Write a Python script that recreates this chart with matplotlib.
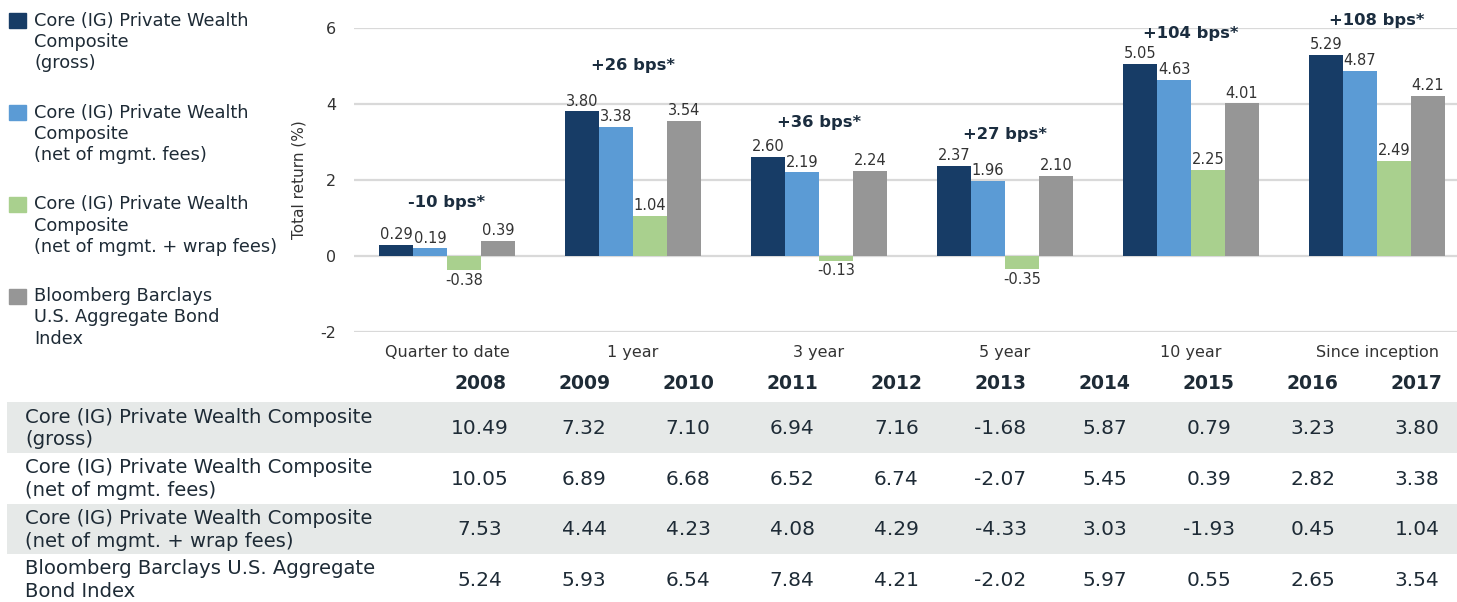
import numpy as np
import matplotlib.pyplot as plt
from matplotlib.patches import Rectangle

plt.rcParams['font.family'] = ['DejaVu Sans']
plt.rcParams['axes.unicode_minus'] = False

# chart data (%)
periods = ["Quarter to date", "1 year", "3 year", "5 year", "10 year", "Since inception"]
gross = [0.29, 3.80, 2.60, 2.37, 5.05, 5.29]
net_mgmt = [0.19, 3.38, 2.19, 1.96, 4.63, 4.87]
net_wrap = [-0.38, 1.04, -0.13, -0.35, 2.25, 2.49]
bond_index = [0.39, 3.54, 2.24, 2.10, 4.01, 4.21]
bps_labels = ["-10 bps*", "+26 bps*", "+36 bps*", "+27 bps*", "+104 bps*", "+108 bps*"]

# calendar year table
years = ["2008", "2009", "2010", "2011", "2012", "2013", "2014", "2015", "2016", "2017"]
gross_yr = [10.49, 7.32, 7.10, 6.94, 7.16, -1.68, 5.87, 0.79, 3.23, 3.80]
net_mgmt_yr = [10.05, 6.89, 6.68, 6.52, 6.74, -2.07, 5.45, 0.39, 2.82, 3.38]
net_wrap_yr = [7.53, 4.44, 4.23, 4.08, 4.29, -4.33, 3.03, -1.93, 0.45, 1.04]
bond_index_yr = [5.24, 5.93, 6.54, 7.84, 4.21, -2.02, 5.97, 0.55, 2.65, 3.54]

legend_labels = [
    "Core (IG) Private Wealth\nComposite\n(gross)",
    "Core (IG) Private Wealth\nComposite\n(net of mgmt. fees)",
    "Core (IG) Private Wealth\nComposite\n(net of mgmt. + wrap fees)",
    "Bloomberg Barclays\nU.S. Aggregate Bond\nIndex",
]
table_labels = [
    "Core (IG) Private Wealth Composite\n(gross)",
    "Core (IG) Private Wealth Composite\n(net of mgmt. fees)",
    "Core (IG) Private Wealth Composite\n(net of mgmt. + wrap fees)",
    "Bloomberg Barclays U.S. Aggregate\nBond Index",
]

colors = ["#173c66", "#5b9bd5", "#a9d08e", "#969696"]
TXT = "#1e2b36"
LBL = "#333333"

W, H = 1457, 602
fig = plt.figure(figsize=(W / 100, H / 100), dpi=100)

# ---- bar chart ----
ax_l, ax_r, ax_t, ax_b = 354, W, 27.7, 331.7
ax = fig.add_axes([ax_l / W, 1 - ax_b / H, (ax_r - ax_l) / W, (ax_b - ax_t) / H])

series = [gross, net_mgmt, net_wrap, bond_index]
x = np.arange(len(periods))
w = 0.1826
for k, (vals, col) in enumerate(zip(series, colors)):
    bars = ax.bar(x + (k - 1.5) * w, vals, w, color=col, zorder=3)
    ax.bar_label(bars, labels=[f"{v:.2f}" for v in vals], padding=2,
                 fontsize=10.5, color=LBL)

bps_y = [1.41, 5.0, 3.5, 3.18, 5.85, 6.2]  # label heights (data units)
for i, t in enumerate(bps_labels):
    ax.text(x[i], bps_y[i], t, ha="center", va="center", fontsize=11.8,
            fontweight="bold", color="#1b2d3f", clip_on=False)

ax.set_ylim(-2, 6)
ax.set_xlim(-0.5, (ax_r - 447) / 186.0)
ax.set_yticks([-2, 0, 2, 4, 6])
ax.set_xticks(x)
ax.set_xticklabels(periods)
ax.grid(axis="y", color="#d9d9d9", lw=1.6)
ax.set_axisbelow(True)
for s in ax.spines.values():
    s.set_visible(False)
ax.tick_params(length=0, labelsize=11.5, labelcolor=LBL)
ax.tick_params(axis="y", pad=13)
ax.tick_params(axis="x", pad=9.5)
ax.set_ylabel("Total return (%)", fontsize=11, color=LBL)
ax.yaxis.set_label_coords((307 - ax_l) / (ax_r - ax_l), 0.5)

# ---- legend and table, drawn in pixel coordinates ----
pix = fig.add_axes([0, 0, 1, 1], zorder=-1)
pix.set_xlim(0, W)
pix.set_ylim(H, 0)
pix.axis("off")

for i, (lab, col) in enumerate(zip(legend_labels, colors)):
    cy = 20.8 + 91.8 * i
    pix.add_patch(Rectangle((9.3, cy - 7.5), 16.7, 15, color=col))
    for j, line in enumerate(lab.split("\n")):
        pix.text(34.3, cy + 21.3 * j, line, ha="left", va="center",
                 fontsize=12.8, color=TXT)

col_x = [480 + 104.1 * c for c in range(len(years))]
for c, yr in enumerate(years):
    pix.text(col_x[c], 383.3, yr, ha="center", va="center", fontsize=13.5,
             fontweight="bold", color=TXT)

rows = [gross_yr, net_mgmt_yr, net_wrap_yr, bond_index_yr]
for r, (lab, vals) in enumerate(zip(table_labels, rows)):
    cy = 428.5 + 50.6 * r
    if r % 2 == 0:
        pix.add_patch(Rectangle((7.3, cy - 26.2), W - 7.3, 50.6, color="#e6e9e8", lw=0))
    for j, line in enumerate(lab.split("\n")):
        pix.text(25, cy - 11.3 + 22.6 * j, line, ha="left", va="center",
                 fontsize=14.1, color=TXT)
    for c, v in enumerate(vals):
        pix.text(col_x[c], cy, f"{v:.2f}", ha="center", va="center",
                 fontsize=14.5, color=TXT)

fig.savefig("out.png", dpi=100)
